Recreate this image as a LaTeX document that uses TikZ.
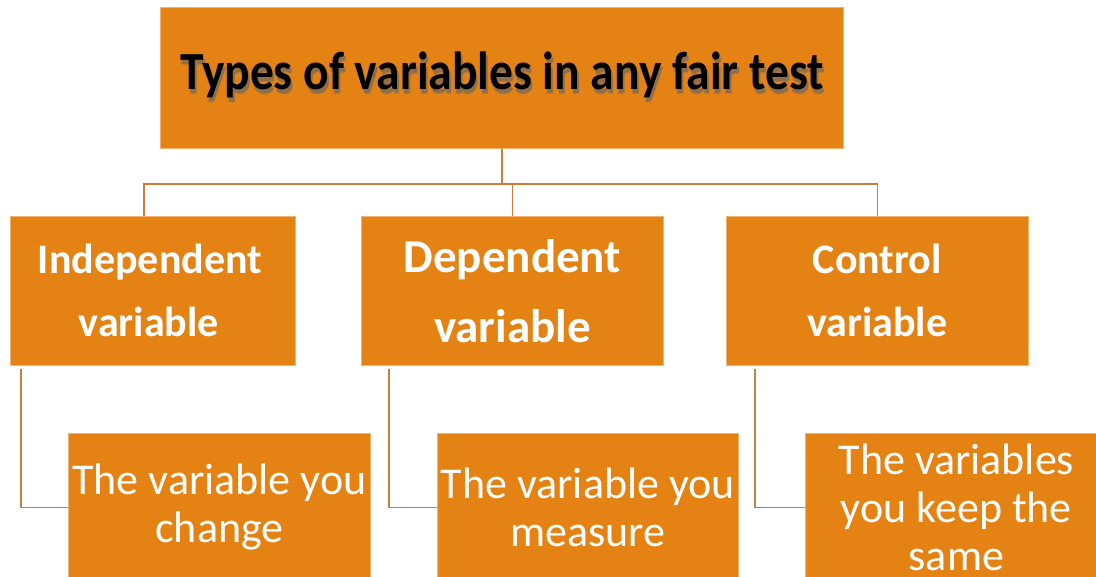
\documentclass[tikz,border=0pt]{standalone}
\usepackage{fontspec}
\setmainfont{Carlito}
\usetikzlibrary{calc}
\definecolor{boxorange}{RGB}{228,131,20}
\definecolor{boxedge}{RGB}{240,178,110}
\definecolor{linkcol}{RGB}{200,128,56}
\newcommand{\titletext}{\scalebox{1}[1.13]{Types of variables in any fair test}}
\tikzset{
  obox/.style={draw=boxedge, line width=0.8pt, fill=boxorange, inner sep=0pt, anchor=north west, align=center, text=white},
  midtext/.style={font=\bfseries\fontsize{42}{63}\selectfont},
  lowtext/.style={font=\fontsize{44}{48}\selectfont},
  titlefont/.style={font=\bfseries\fontsize{47.5}{56}\selectfont, inner sep=0pt},
  link/.style={draw=linkcol, line width=1.5pt}
}
\begin{document}
\begin{tikzpicture}[x=1pt,y=-1pt]
\useasboundingbox (0,0) rectangle (1096,577);
\clip (0,0) rectangle (1096,577);
% title
\node[obox, minimum width=683pt, minimum height=141pt] (T) at (160,7) {};
\node[titlefont, text=black!60, opacity=0.35] (Ts1) at ($(T.center)+(1.5,2)$) {\titletext};
\node[titlefont, text=black!60, opacity=0.5] (Ts2) at ($(T.center)+(2,0.5)$) {\titletext};
\node[titlefont, text=black] (Tt) at ($(T.center)+(0,-3)$) {\titletext};
% second level
\node[obox, midtext, minimum width=285pt, minimum height=149pt] (A) at (10,216) {Independent\hspace*{6pt}\\variable\hspace*{8pt}};
\node[obox, font=\bfseries\fontsize{47}{70}\selectfont, minimum width=302pt, minimum height=149pt] (B) at (361,216) {Dependent\\variable};
\node[obox, midtext, minimum width=302pt, minimum height=149pt] (C) at (726,216) {Control\\variable};
% third level
\node[obox, lowtext, minimum width=302pt, minimum height=148pt] (a) at (68,433) {The variable you\\change};
\node[obox, lowtext, minimum width=301pt, minimum height=148pt] (b) at (437,433) {The variable you\\measure};
\node[obox, lowtext, minimum width=302pt, minimum height=148pt] (c) at (805,433) {The variables\\you keep the\\same};
% connectors
\coordinate (j) at ($(T.south)+(0,35)$);
\draw[link] (T.south) -- (j);
\draw[link] ([xshift=-9pt]A.north) |- (j) -| (C.north);
\draw[link] (j) -| (B.north);
\draw[link] ([xshift=11pt,yshift=-3pt]A.south west) |- (a.west);
\draw[link] ([xshift=28pt,yshift=-3pt]B.south west) |- (b.west);
\draw[link] ([xshift=29pt,yshift=-3pt]C.south west) |- (c.west);
\end{tikzpicture}
\end{document}
